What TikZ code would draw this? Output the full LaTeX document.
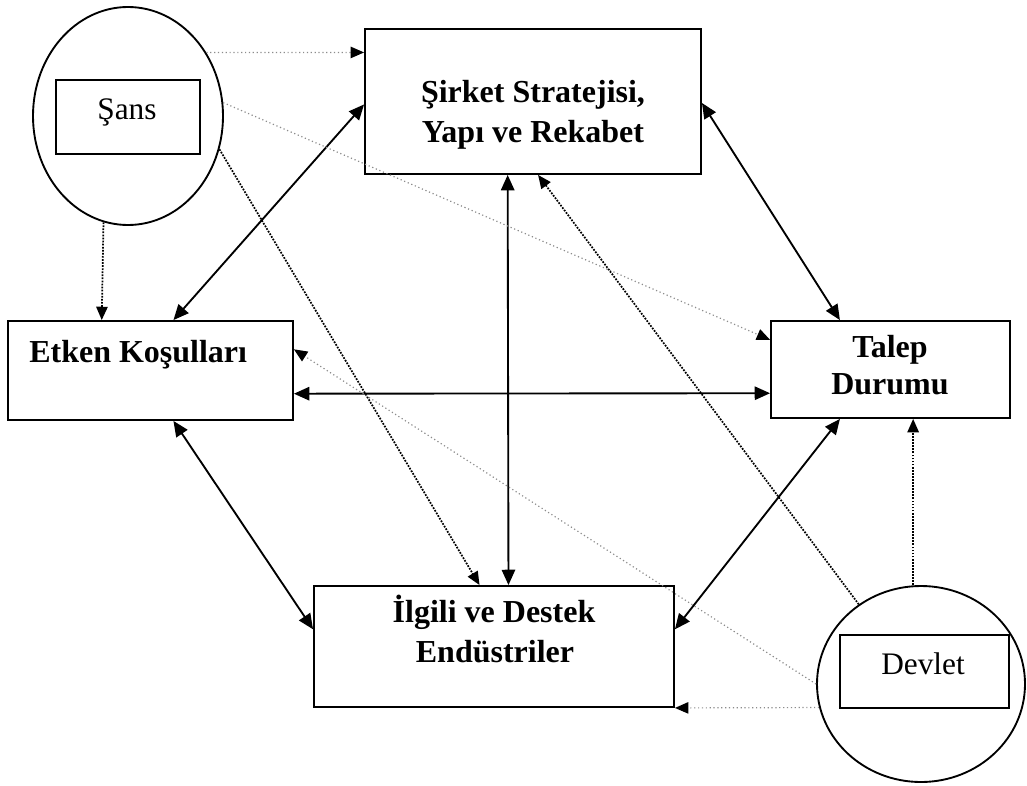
\documentclass[tikz,border=0pt]{standalone}
\usepackage{fontspec}
\setmainfont{Liberation Serif}
\usetikzlibrary{arrows.meta,shapes.geometric,calc}
\begin{document}
\begin{tikzpicture}[x=0.75pt,y=-0.75pt,
  box/.style={draw, line width=1.4pt, rectangle, inner sep=0pt},
  circ/.style={draw, line width=1.4pt, ellipse, inner sep=0pt},
  lbl/.style={font=\fontsize{24}{28}\selectfont\bfseries, anchor=base, inner sep=0pt},
  rlbl/.style={font=\fontsize{23.5}{28}\selectfont, anchor=base, inner sep=0pt},
  tip/.tip={Triangle[length=11.5pt,width=10pt]},
  dtip/.tip={Triangle[length=10pt,width=8.5pt,color=black]},
  link/.style={line width=1.4pt, tip-tip},
  infl/.style={densely dotted, line width=1.3pt, -dtip},
  faint/.style={dotted, line width=0.9pt, black!45, -dtip}
]
\useasboundingbox (0,0) rectangle (1027,785);

% Chance
\node[circ, minimum width=142.5pt, minimum height=163.5pt] (sanscirc) at (128,116) {};
\node[box, minimum width=108pt, minimum height=55.5pt] (sansbox) at (128,117) {};
\node[rlbl] (sanstxt) at (127,119) {Şans};

% Firm strategy
\node[box, minimum width=252pt, minimum height=108.75pt] (sirket) at (533,101.5) {};
\node[lbl] (sirket1) at (533,102) {Şirket Stratejisi,};
\node[lbl] (sirket2) at (533,142) {Yapı ve Rekabet};

% Factor conditions
\node[box, minimum width=213.75pt, minimum height=74.25pt] (etken) at (150.5,370.5) {};
\node[lbl, anchor=base west] (etkentxt) at (29,362) {Etken Koşulları};

% Demand conditions
\node[box, minimum width=179.25pt, minimum height=72.75pt] (talep) at (890.5,369.5) {};
\node[lbl] (talep1) at (890,357) {Talep};
\node[lbl] (talep2) at (890,394) {Durumu};

% Related industries
\node[box, minimum width=270pt, minimum height=90.75pt] (ilgili) at (494,646.5) {};
\node[lbl] (ilgili1) at (494,622) {İlgili ve Destek};
\node[lbl] (ilgili2) at (495,662) {Endüstriler};

% Government
\node[circ, minimum width=156pt, minimum height=147pt] (devcirc) at (921,684) {};
\node[box, minimum width=126.75pt, minimum height=54.75pt] (devbox) at (924.5,671.5) {};
\node[rlbl] (devtxt) at (923,674) {Devlet};

% solid two-way links
\draw[link] ($(sirket.north west)!0.52!(sirket.south west)$) -- ($(etken.north west)!0.58!(etken.north east)$);
\draw[link] ($(sirket.north east)!0.51!(sirket.south east)$) -- ($(talep.north west)!0.29!(talep.north east)$);
\draw[link] ($(sirket.south west)!0.425!(sirket.south east)$) -- ($(ilgili.north west)!0.54!(ilgili.north east)$);
\draw[link] ($(etken.north east)!0.73!(etken.south east)$) -- ($(talep.north west)!0.74!(talep.south west)$);
\draw[link] ($(etken.south west)!0.58!(etken.south east)$) -- ($(ilgili.north west)!0.36!(ilgili.south west)$);
\draw[link] ($(talep.south west)!0.29!(talep.south east)$) -- ($(ilgili.north east)!0.36!(ilgili.south east)$);

% dotted influences of chance
\draw[infl] (sanscirc.257) -- ($(etken.north west)!0.33!(etken.north east)$);
\draw[faint] (sanscirc.39) -- ($(sirket.north west)!0.166!(sirket.south west)$);
\draw[infl] (sanscirc.340) -- ($(ilgili.north west)!0.46!(ilgili.north east)$);
\draw[faint] (sanscirc.8) -- ($(talep.north west)!0.2!(talep.south west)$);

% dotted influences of government
\coordinate (tb) at ($(talep.south west)!0.594!(talep.south east)$);
\draw[infl] (tb |- devcirc.north) -- (tb);
\draw[infl] (devcirc.128) -- ($(sirket.south west)!0.515!(sirket.south east)$);
\draw[faint] (devcirc.west) -- ($(etken.north east)!0.29!(etken.south east)$);
\draw[faint] (devcirc.193) -- (ilgili.south east);
\end{tikzpicture}
\end{document}
